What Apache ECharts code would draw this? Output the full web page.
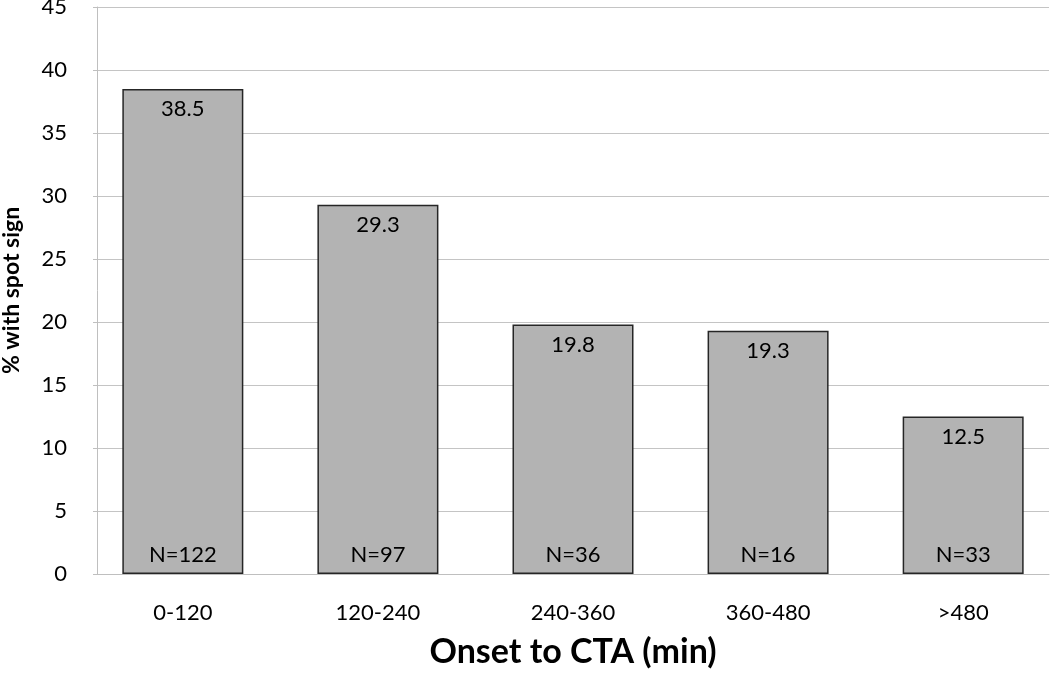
<!DOCTYPE html>
<html><head><meta charset="utf-8">
<script src="https://cdn.jsdelivr.net/npm/echarts@6/dist/echarts.min.js"></script>
<style>html,body{margin:0;padding:0;background:#fff}#c{width:1050px;height:688px}</style>
</head><body><div id="c"></div>
<script>
const categories = ['0-120', '120-240', '240-360', '360-480', '>480'];
const percentSpot = [38.5, 29.3, 19.8, 19.3, 12.5];
const nLabels = ['N=122', 'N=97', 'N=36', 'N=16', 'N=33'];
const yTicks = [0, 5, 10, 15, 20, 25, 30, 35, 40, 45];

const FONT = 'Lato, "Open Sans", sans-serif';
const chart = echarts.init(document.getElementById('c'), null, {renderer: 'canvas'});
chart.setOption({
  animation: false,
  backgroundColor: '#fff',
  grid: {left: 97, right: 1, top: 7, bottom: 114, outerBoundsMode: 'none', containLabel: false},
  xAxis: {
    type: 'value', min: -0.44, max: 4.44,
    name: 'Onset to CTA (min)', nameLocation: 'middle', nameGap: 61,
    nameTextStyle: {fontFamily: FONT, fontSize: 34, fontWeight: 'bold', color: '#000'},
    axisLine: {show: true, onZero: false, lineStyle: {color: '#bfbfbf', width: 1}},
    axisTick: {show: false},
    splitLine: {show: false},
    axisLabel: {
      customValues: [0, 1, 2, 3, 4],
      formatter: v => categories[Math.round(v)],
      fontFamily: FONT, fontSize: 22, color: '#000', margin: 28
    }
  },
  yAxis: {
    type: 'value', min: 0, max: 45, interval: 5,
    name: '% with spot sign', nameLocation: 'middle', nameGap: 74, nameRotate: 90,
    nameTextStyle: {fontFamily: FONT, fontSize: 23, fontWeight: 'bold', color: '#000'},
    axisLine: {show: true, onZero: false, lineStyle: {color: '#bfbfbf', width: 1}},
    axisTick: {show: true, length: 4, lineStyle: {color: '#bfbfbf'}},
    splitLine: {show: true, lineStyle: {color: '#c4c4c4', width: 1}},
    axisLabel: {
      customValues: yTicks,
      fontFamily: FONT, fontSize: 22, color: '#000', margin: 30
    }
  },
  series: [
    {
      type: 'bar', barWidth: 121,
      data: percentSpot.map((v, i) => [i, v]),
      itemStyle: {color: '#b3b3b3', borderColor: '#262626', borderWidth: 1.5},
      label: {show: true, position: 'insideTop', distance: 9,
        formatter: p => p.value[1].toFixed(1),
        fontFamily: FONT, fontSize: 22, color: '#000'}
    },
    {
      type: 'bar', barWidth: 121, barGap: '-100%',
      data: percentSpot.map((v, i) => [i, v]),
      itemStyle: {color: 'rgba(0,0,0,0)', borderWidth: 0},
      label: {show: true, position: 'insideBottom', distance: 8,
        formatter: p => nLabels[p.dataIndex],
        fontFamily: FONT, fontSize: 22, color: '#000'},
      silent: true, z: 3
    }
  ]
});
</script></body></html>
